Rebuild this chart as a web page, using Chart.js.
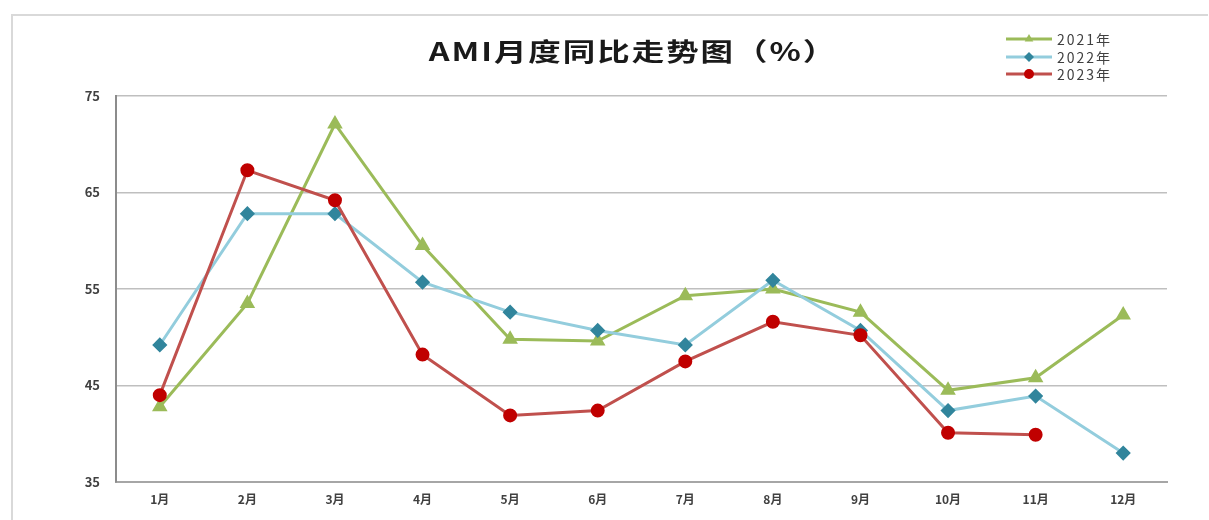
<!DOCTYPE html>
<html>
<head>
<meta charset="utf-8">
<script src="https://cdn.jsdelivr.net/npm/chart.js@4/dist/chart.umd.min.js"></script>
<style>
  html, body { margin: 0; padding: 0; background: #fff; }
  #wrap { width: 1209px; height: 520px; position: relative; }
</style>
</head>
<body>
<div id="wrap"><canvas id="amiChart" width="1209" height="520"></canvas></div>
<script>
// Données
const months = ['1月', '2月', '3月', '4月', '5月', '6月', '7月', '8月', '9月', '10月', '11月', '12月'];
const ami2021 = [42.8, 53.5, 72.1, 59.5, 49.8, 49.6, 54.3, 55.0, 52.6, 44.5, 45.8, 52.3];
const ami2022 = [49.2, 62.8, 62.8, 55.7, 52.6, 50.7, 49.2, 55.9, 50.7, 42.4, 43.9, 38.0];
const ami2023 = [44.0, 67.3, 64.2, 48.2, 41.9, 42.4, 47.5, 51.6, 50.2, 40.1, 39.9, null];
const yTicks = [35, 45, 55, 65, 75];

const FONT = '"Noto Sans CJK SC", "Noto Sans", sans-serif';

/**
 * Cadre, titre et légende dessinés à la main
 */
const decorPlugin = {
    id: 'decor',
    beforeDraw(chart) {
        const ctx = chart.ctx;
        ctx.save();
        ctx.fillStyle = '#fff';
        ctx.fillRect(0, 0, chart.width, chart.height);
        // cadre gris clair
        ctx.strokeStyle = '#d9d9d9';
        ctx.lineWidth = 2;
        ctx.beginPath();
        ctx.moveTo(12, chart.height);
        ctx.lineTo(12, 15);
        ctx.lineTo(1208, 15);
        ctx.stroke();
        ctx.restore();
    },
    afterDraw(chart) {
        const ctx = chart.ctx;
        ctx.save();
        // titre (un peu étiré en largeur comme l'original)
        ctx.save();
        ctx.translate(633, 51);
        ctx.scale(1.3, 1);
        ctx.fillStyle = '#1a1a1a';
        ctx.font = 'bold 25px ' + FONT;
        ctx.letterSpacing = '1.5px';
        ctx.textAlign = 'center';
        ctx.textBaseline = 'middle';
        ctx.fillText('AMI月度同比走势图（%）', 0, 0);
        ctx.restore();

        // légende
        const rowsY = [39, 57, 74];
        chart.data.datasets.forEach((ds, i) => {
            const y = rowsY[i];
            ctx.strokeStyle = ds.borderColor;
            ctx.lineWidth = 3;
            ctx.beginPath();
            ctx.moveTo(1006, y);
            ctx.lineTo(1052, y);
            ctx.stroke();
            ctx.fillStyle = ds.pointBackgroundColor;
            ctx.strokeStyle = ds.pointBackgroundColor;
            Chart.helpers.drawPoint(ctx, {
                pointStyle: ds.pointStyle,
                radius: 5,
                rotation: 0,
                borderWidth: 0
            }, 1029, y);
            ctx.fillStyle = '#404040';
            ctx.font = '14px ' + FONT;
            ctx.letterSpacing = '2px';
            ctx.textAlign = 'left';
            ctx.textBaseline = 'middle';
            ctx.fillText(ds.label, 1057, y + 1);
            ctx.letterSpacing = '0px';
        });
        ctx.restore();
    }
};

function initChart() {
    const ctx = document.getElementById('amiChart');
    if (!ctx) return;

    new Chart(ctx.getContext('2d'), {
        type: 'line',
        data: {
            labels: months,
            datasets: [{
                label: '2021年',
                data: ami2021,
                borderColor: '#9bbb59',
                pointBackgroundColor: '#9bbb59',
                pointBorderColor: '#9bbb59',
                pointStyle: 'triangle',
                pointRadius: 6,
                borderWidth: 3,
                order: 3
            }, {
                label: '2022年',
                data: ami2022,
                borderColor: '#93cddd',
                pointBackgroundColor: '#31859c',
                pointBorderColor: '#31859c',
                pointStyle: 'rectRot',
                pointRadius: 5.5,
                borderWidth: 3,
                order: 2
            }, {
                label: '2023年',
                data: ami2023,
                borderColor: '#c0504d',
                pointBackgroundColor: '#c00000',
                pointBorderColor: '#c00000',
                pointStyle: 'circle',
                pointRadius: 5.5,
                borderWidth: 3,
                order: 1
            }]
        },
        options: {
            responsive: false,
            animation: false,
            spanGaps: false,
            layout: {
                padding: { top: 96, right: 42, left: 0, bottom: 0 }
            },
            plugins: {
                legend: { display: false },
                title: { display: false },
                tooltip: { enabled: false }
            },
            scales: {
                x: {
                    offset: true,
                    grid: { display: false, drawTicks: false },
                    border: { display: true, color: '#a6a6a6', width: 2 },
                    ticks: {
                        padding: 10,
                        color: '#404040',
                        font: { family: FONT, size: 12, weight: 'bold' }
                    },
                    afterFit(scale) { scale.height = 38; }
                },
                y: {
                    min: 35,
                    max: 75,
                    afterBuildTicks(scale) {
                        scale.ticks = yTicks.map(v => ({ value: v }));
                    },
                    grid: {
                        color: '#bfbfbf',
                        lineWidth: 1.5,
                        drawTicks: false
                    },
                    border: { display: true, color: '#8c8c8c', width: 2 },
                    ticks: {
                        padding: 16,
                        color: '#404040',
                        font: { family: FONT, size: 13, weight: 'bold' }
                    },
                    afterFit(scale) { scale.width = 116; }
                }
            }
        },
        plugins: [decorPlugin]
    });
}

initChart();
</script>
</body>
</html>
